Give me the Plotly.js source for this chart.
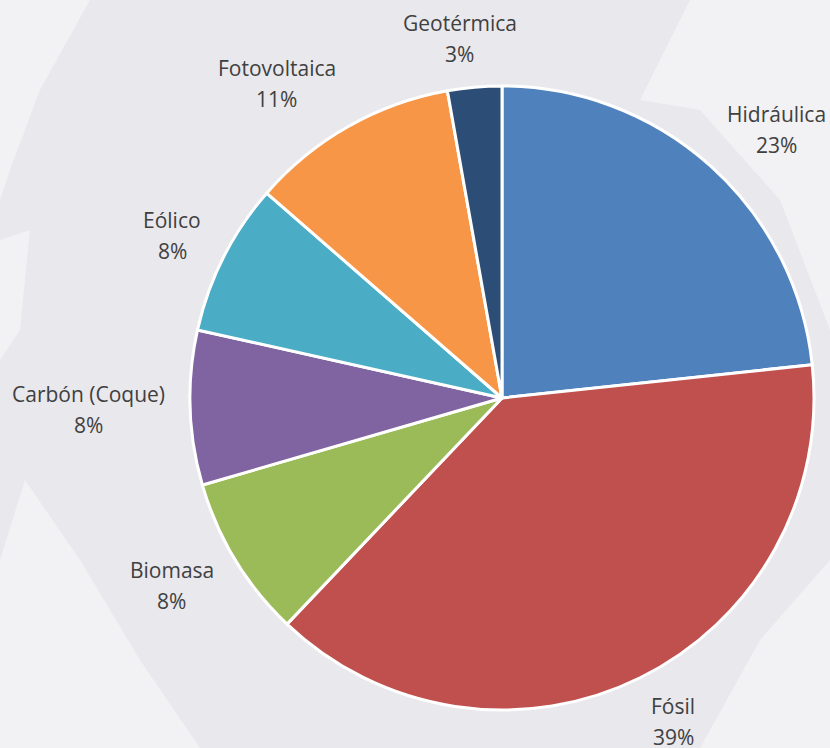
<!DOCTYPE html>
<html>
<head>
<meta charset="utf-8">
<script src="https://cdn.plot.ly/plotly-3.0.1.min.js"></script>
<style>
  html, body { margin: 0; padding: 0; background: #e9e8ed; }
  #chart { width: 830px; height: 748px; }
</style>
</head>
<body>
<div id="chart"></div>
<script>
// ---- Data ----
const categories = ["Hidráulica", "Fósil", "Biomasa", "Carbón (Coque)", "Eólico", "Fotovoltaica", "Geotérmica"];
const shares = [23.3, 38.8, 8.4, 8.0, 7.9, 10.8, 2.8];
const sliceColors = ["#4F81BD", "#C0504D", "#9BBB59", "#8064A2", "#4BACC6", "#F79646", "#2C4D75"];

// ---- Layout constants ----
const W = 830, H = 748;
const CX = 502, CY = 398, R = 312;   // pie centre / radius in px
const GAP = 25, HH = 24, LINE = 31;
const FONT = "Open Sans, sans-serif";
const FSIZE = 21;
const TXT = "#404040";

const ctx = document.createElement("canvas").getContext("2d");
ctx.font = FSIZE + "px 'Open Sans'";

const total = shares.reduce((a, b) => a + b, 0);
const annotations = [];
let cum = 0;
shares.forEach((v, i) => {
  const frac = v / total;
  const mid = cum + frac / 2;
  cum += frac;
  const th = 2 * Math.PI * mid;
  const s = Math.sin(th), c = Math.cos(th);
  const pct = Math.round(frac * 100) + "%";
  const hw = Math.max(ctx.measureText(categories[i]).width, ctx.measureText(pct).width) / 2;
  const k = Math.max(-1, Math.min(1, 2.5 * s));
  const bx = CX + (R + GAP) * s + hw * k;
  const by = CY - (R + GAP) * c - HH * c;
  [[categories[i], by - LINE / 2], [pct, by + LINE / 2]].forEach(([t, y]) => {
    annotations.push({
      text: t, xref: "paper", yref: "paper",
      x: bx / W, y: 1 - y / H, xanchor: "center", yanchor: "middle",
      showarrow: false, font: { family: FONT, size: FSIZE, color: TXT }
    });
  });
});

function P(pts) { // pixel polygon -> paper path
  return pts.map((p, j) => (j ? "L" : "M") + (p[0] / W).toFixed(4) + "," + (1 - p[1] / H).toFixed(4)).join(" ") + " Z";
}
const bgShapes = [
  [[690,0],[830,0],[830,330],[780,200],[700,110],[640,100]],
  [[0,0],[90,0],[40,90],[10,170],[0,200]],
  [[0,560],[25,480],[80,560],[140,660],[200,748],[0,748]],
  [[700,748],[760,640],[830,560],[830,748]],
  [[0,240],[30,230],[20,330],[0,360]]
].map(pts => ({
  type: "path", xref: "paper", yref: "paper", path: P(pts),
  fillcolor: "rgba(255,255,255,0.4)", line: { width: 0 }, layer: "below"
}));

const trace = {
  type: "pie",
  labels: categories,
  values: shares,
  sort: false,
  direction: "clockwise",
  rotation: 0,
  marker: { colors: sliceColors, line: { color: "#ffffff", width: 3 } },
  textinfo: "none",
  hoverinfo: "label+percent",
  showlegend: false,
  domain: { x: [(CX - R) / W, (CX + R) / W], y: [1 - (CY + R) / H, 1 - (CY - R) / H] }
};

const layout = {
  width: W, height: H,
  margin: { l: 0, r: 0, t: 0, b: 0 },
  paper_bgcolor: "#e9e8ed",
  showlegend: false,
  font: { family: FONT, color: TXT },
  annotations: annotations,
  shapes: bgShapes
};

Plotly.newPlot("chart", [trace], layout, { displayModeBar: false, staticPlot: true });
</script>
</body>
</html>
